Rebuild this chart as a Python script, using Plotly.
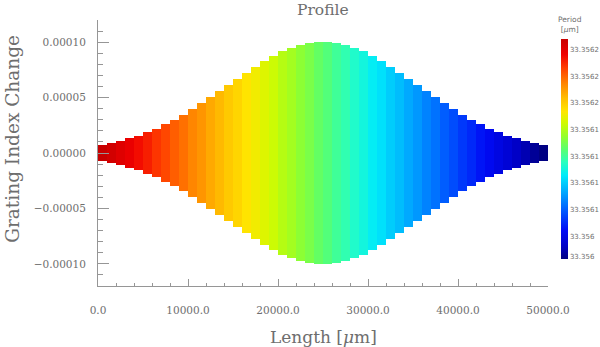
import plotly.graph_objects as go

# ---- data ----
segment_start = [i * 1000 for i in range(50)]          # µm, segment left edges
segment_width = 1000
half_amp = [0.072, 0.090, 0.108, 0.132, 0.157, 0.187, 0.220, 0.258, 0.300, 0.346,
            0.396, 0.448, 0.503, 0.559, 0.614, 0.670, 0.725, 0.779, 0.830, 0.876,
            0.917, 0.951, 0.978, 0.995, 1.000,
            1.000, 0.995, 0.978, 0.951, 0.917, 0.876, 0.830, 0.779, 0.725, 0.670,
            0.614, 0.559, 0.503, 0.448, 0.396, 0.346, 0.300, 0.258, 0.220, 0.187,
            0.157, 0.132, 0.108, 0.090, 0.072]               # x 1e-4
period = [33.35621, 33.356206, 33.356201, 33.356197, 33.356192, 33.356188, 33.356183,
          33.356179, 33.356174, 33.35617, 33.356165, 33.356161, 33.356156, 33.356152,
          33.356147, 33.356143, 33.356138, 33.356134, 33.356129, 33.356125, 33.35612,
          33.356116, 33.356111, 33.356107, 33.356102, 33.356098, 33.356093, 33.356089,
          33.356084, 33.35608, 33.356075, 33.356071, 33.356066, 33.356062, 33.356057,
          33.356053, 33.356048, 33.356044, 33.356039, 33.356035, 33.35603, 33.356026,
          33.356021, 33.356017, 33.356012, 33.356008, 33.356003, 33.355999, 33.355994,
          33.35599]
cbar_tickvals = [33.3562, 33.356173, 33.356147, 33.35612, 33.356093,
                 33.356067, 33.35604, 33.356013, 33.355993]
cbar_ticktext = ["33.3562", "33.3562", "33.3562", "33.3561", "33.3561",
                 "33.3561", "33.3561", "33.356", "33.356"]
x_tickvals = [0, 10000, 20000, 30000, 40000, 50000]
y_tickvals = [-0.0001, -0.00005, 0, 0.00005, 0.0001]

# ---- derived ----
centers = [s + segment_width / 2 for s in segment_start]
h = [v * 1e-4 for v in half_amp]
base = [-v for v in h]
full = [2 * v for v in h]

colorscale = [
    [0.00, "rgb(0,0,130)"],
    [0.06, "rgb(0,0,200)"],
    [0.13, "rgb(0,10,245)"],
    [0.22, "rgb(0,90,255)"],
    [0.30, "rgb(0,165,255)"],
    [0.38, "rgb(0,235,250)"],
    [0.44, "rgb(40,255,190)"],
    [0.50, "rgb(90,255,110)"],
    [0.56, "rgb(150,255,40)"],
    [0.62, "rgb(210,250,0)"],
    [0.67, "rgb(255,230,0)"],
    [0.73, "rgb(255,190,0)"],
    [0.80, "rgb(255,130,0)"],
    [0.87, "rgb(255,60,0)"],
    [0.93, "rgb(240,0,0)"],
    [1.00, "rgb(200,0,0)"],
]

gray = "rgb(110,110,110)"
axcol = "rgb(150,150,150)"
fig = go.Figure(go.Bar(
    x=centers, y=full, base=base, width=segment_width,
    marker=dict(color=period, colorscale=colorscale,
                cmin=min(period), cmax=max(period),
                line=dict(width=0),
                colorbar=dict(
                    thickness=7, thicknessmode="pixels",
                    len=220, lenmode="pixels",
                    x=1.0289, xanchor="left", xpad=0,
                    y=0.9276, yanchor="top", ypad=0,
                    tickmode="array",
                    tickvals=cbar_tickvals, ticktext=cbar_ticktext,
                    ticks="", ticklen=3,
                    tickfont=dict(family="DejaVu Sans", size=7, color=gray),
                    outlinewidth=0,
                )),
    showlegend=False,
))

fig.update_layout(
    width=600, height=347,
    margin=dict(l=98, r=52, t=20, b=60.5, autoexpand=False),
    paper_bgcolor="white", plot_bgcolor="white",
    bargap=0,
    xaxis=dict(range=[0, 50000], tickvals=x_tickvals, automargin=False,
               tickformat=".1f", showgrid=False, zeroline=False,
               showline=True, linecolor=axcol, linewidth=1,
               ticks="inside", ticklen=7, tickcolor=axcol,
               minor=dict(dtick=2000, ticks="inside", ticklen=3, tickcolor=axcol),
               tickfont=dict(family="DejaVu Serif", size=10.5, color=gray),
               ticklabelstandoff=14),
    yaxis=dict(range=[-0.00012, 0.00012], tickvals=y_tickvals, automargin=False,
               tickformat=".5f", showgrid=False, zeroline=False,
               showline=True, linecolor=axcol, linewidth=1,
               ticks="inside", ticklen=11, tickcolor=axcol,
               minor=dict(dtick=0.00001, ticks="inside", ticklen=5, tickcolor=axcol),
               tickfont=dict(family="DejaVu Serif", size=10.5, color=gray),
               ticklabelstandoff=9),
    annotations=[
        dict(text="Profile", xref="paper", yref="paper",
             x=(323 - 98) / 450, y=(286.5 - 10) / 266.5,
             xanchor="center", yanchor="middle", showarrow=False,
             font=dict(family="DejaVu Serif", size=15.5, color=gray)),
        dict(text="Length [<i>μ</i>m]", xref="paper", yref="paper",
             x=(323 - 98) / 450, y=(286.5 - 338) / 266.5,
             xanchor="center", yanchor="middle", showarrow=False,
             font=dict(family="DejaVu Serif", size=17, color=gray)),
        dict(text="Grating Index Change", xref="paper", yref="paper",
             x=(13 - 98) / 450, y=(286.5 - 139) / 266.5, textangle=-90,
             xanchor="center", yanchor="middle", showarrow=False,
             font=dict(family="DejaVu Serif", size=18.5, color=gray)),
        dict(text="Period<br>[<i>μ</i>m]", xref="paper", yref="paper",
             x=(570 - 98) / 450, y=(286.5 - 25) / 266.5,
             xanchor="center", yanchor="middle", showarrow=False, align="center",
             font=dict(family="DejaVu Sans", size=7.5, color=gray)),
    ],
)

fig.write_html(
    "out.html",
    config={"displayModeBar": False},
    post_script="document.body.style.margin='0';document.body.style.padding='0';",
)
